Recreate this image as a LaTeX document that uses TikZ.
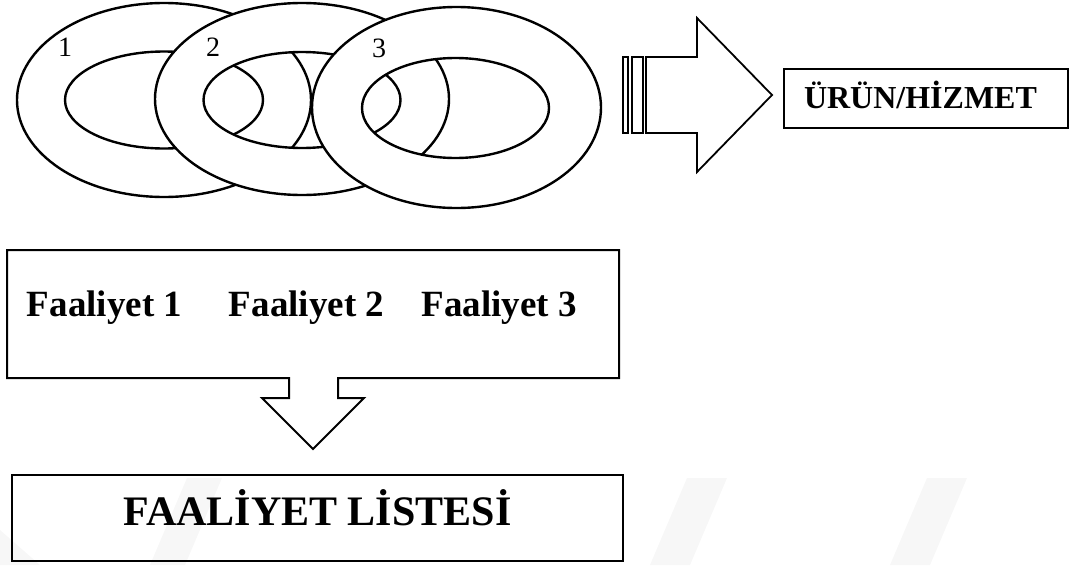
\documentclass[tikz,border=0pt]{standalone}
\usepackage{fontspec}
\setmainfont{Liberation Serif}
\begin{document}
\begin{tikzpicture}[x=1pt,y=-1pt,
  ring/.style={fill=white,draw=black,line width=2.4pt,even odd rule},
  blockarrow/.style={fill=white,draw=black,line width=1.8pt,line join=miter},
  watermark/.style={fill=black!3,draw=none},
  numlabel/.style={font=\fontsize{28}{30}\selectfont,inner sep=0pt},
  actlabel/.style={font=\bfseries\fontsize{37}{40}\selectfont,inner sep=0pt,anchor=base}]
\useasboundingbox (0,0) rectangle (1070,565);
% faint background watermark slashes
\fill[watermark] (0,530) -- (40,565) -- (0,565) -- cycle;
\fill[watermark] (150,565) -- (185,565) -- (222,478) -- (187,478) -- cycle;
\fill[watermark] (650,565) -- (690,565) -- (727,478) -- (687,478) -- cycle;
\fill[watermark] (890,565) -- (930,565) -- (967,478) -- (927,478) -- cycle;
% rings (each one above the previous)
\path[ring] (164,100) ellipse [x radius=147pt,y radius=97pt]
            (164,100) ellipse [x radius=99pt,y radius=48.5pt];
\path[ring] (302,99) ellipse [x radius=147pt,y radius=96pt]
            (302,100) ellipse [x radius=98.5pt,y radius=48pt];
\path[ring] (456.5,107.5) ellipse [x radius=144.5pt,y radius=100.5pt]
            (455.5,108) ellipse [x radius=93.5pt,y radius=50pt];
\node[numlabel] (n1) at (65,47) {1};
\node[numlabel] (n2) at (213,47) {2};
\node[numlabel] (n3) at (379,48) {3};
% right block arrow with striped tail
\draw[blockarrow,line width=1.5pt] (623,57) rectangle (628,133);
\draw[blockarrow,line width=1.5pt] (632,57) rectangle (643,133);
\draw[blockarrow] (646,57) -- (697,57) -- (697,18) -- (772,95) -- (697,172)
   -- (697,133) -- (646,133) -- cycle;
\node[draw,line width=1.2pt,fill=white,minimum width=284pt,minimum height=59pt,
      text width=244pt,inner xsep=20pt,inner ysep=0pt,align=left,
      text height=19pt,text depth=0pt,
      font=\bfseries\fontsize{32}{34}\selectfont] (urun) at (926,98.5) {ÜRÜN/HİZMET};
% activities callout with down arrow
\draw[blockarrow,line width=2pt] (7,250) -- (619,250) -- (619,378) -- (338,378)
   -- (338,398) -- (364,398) -- (313,449) -- (262,398) -- (289,398)
   -- (289,378) -- (7,378) -- cycle;
\node[actlabel] (f1) at (104.5,316) {Faaliyet 1};
\node[actlabel] (f2) at (306.5,316) {Faaliyet 2};
\node[actlabel] (f3) at (499,316) {Faaliyet 3};
\node[draw,line width=1.8pt,minimum width=611pt,minimum height=86pt,inner sep=0pt,
      text height=28pt,text depth=14pt,
      font=\bfseries\fontsize{42}{46}\selectfont] (liste) at (317.5,518) {FAALİYET LİSTESİ};
\end{tikzpicture}
\end{document}
